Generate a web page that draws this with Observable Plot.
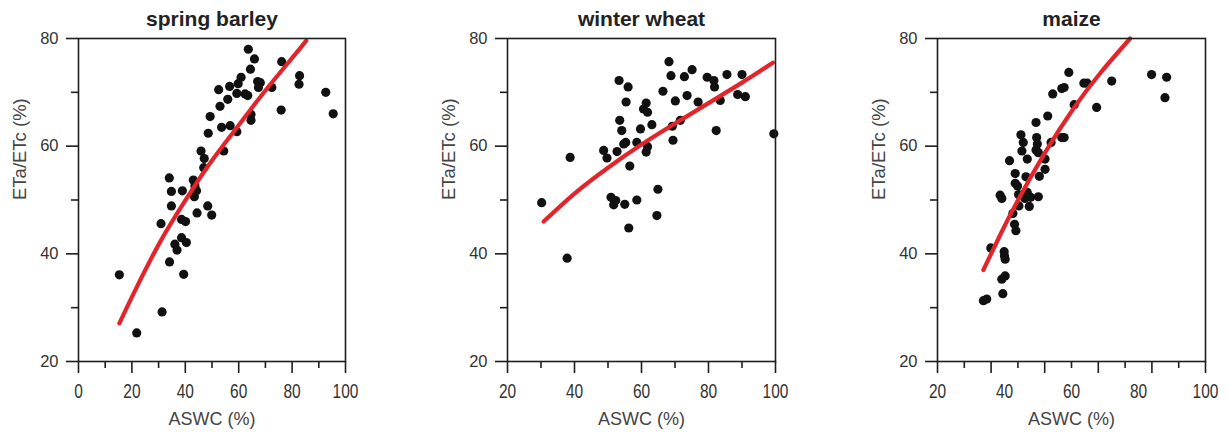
<!DOCTYPE html>
<html>
<head>
<meta charset="utf-8">
<script src="https://cdn.jsdelivr.net/npm/d3@7"></script>
<script src="https://cdn.jsdelivr.net/npm/@observablehq/plot@0.6"></script>
<style>
  body { margin: 0; background: #fff; }
  #wrap { position: relative; width: 1228px; height: 432px; overflow: hidden; }
  #wrap svg { position: absolute; top: 0; }
</style>
</head>
<body>
<div id="wrap"></div>
<script>
// ---------- data ----------
const panelTitles = ["spring barley", "winter wheat", "maize"];
const xAxisTitle = "ASWC (%)";
const yAxisTitle = "ETa/ETc (%)";

const yTickLabels = [20, 40, 60, 80];
const yMinorTicks = [30, 50, 70];

const barleyXTickLabels = [0, 20, 40, 60, 80, 100];
const barleyXMinorTicks = [10, 30, 50, 70, 90];
const wheatXTickLabels = [20, 40, 60, 80, 100];
const wheatXMinorTicks = [30, 50, 70, 90];
const maizeXTickLabels = [20, 40, 60, 80, 100];
const maizeXMajorTicks = [20, 36, 52, 68, 84, 100];
const maizeXMinorTicks = [28, 44, 60, 76, 92];

const barleyASWC = [15.3, 21.8, 31.3, 30.9, 34.0, 34.8, 34.8, 34.1, 36.1, 36.9, 38.6, 38.9, 38.6, 40.1, 40.4, 39.4,
  43.0, 43.6, 44.2, 43.4, 44.4, 48.4, 49.9, 45.9, 47.1, 46.9, 48.6, 49.3, 52.5, 53.0, 53.6, 54.4, 55.9, 56.6, 56.8,
  59.3, 59.3, 59.8, 60.9, 62.4, 63.4, 63.6, 65.9, 64.4, 64.6, 64.6, 67.1, 68.1, 67.4, 72.4, 76.1, 75.9, 82.8, 82.6,
  92.6, 95.4];
const barleyETa = [36.1, 25.3, 29.2, 45.6, 54.1, 51.6, 48.9, 38.5, 41.8, 40.7, 43.0, 51.7, 46.4, 46.0, 42.1, 36.2,
  53.7, 52.6, 51.7, 50.6, 47.6, 48.9, 47.2, 59.1, 57.7, 56.0, 62.4, 65.5, 70.5, 67.4, 63.5, 59.1, 68.7, 71.1, 63.8,
  62.7, 69.8, 71.6, 72.8, 69.7, 69.4, 78.0, 76.2, 74.3, 65.9, 64.8, 72.0, 71.8, 70.9, 70.9, 75.7, 66.7, 73.1, 71.5,
  70.0, 66.0];

const wheatASWC = [30.2, 37.8, 38.7, 48.7, 49.7, 50.9, 51.7, 52.3, 52.7, 53.3, 53.5, 54.1, 54.7, 55.0, 55.4, 56.0,
  55.3, 56.2, 56.5, 58.6, 58.6, 59.7, 60.6, 61.4, 61.8, 61.4, 61.8, 63.1, 64.9, 64.6, 66.4, 68.2, 68.8, 69.2, 69.4,
  70.1, 71.6, 72.8, 73.6, 75.1, 76.9, 79.6, 81.6, 81.8, 82.3, 83.5, 85.5, 88.7, 90.0, 91.0, 99.5];
const wheatETa = [49.5, 39.2, 57.9, 59.2, 57.8, 50.5, 49.1, 49.9, 59.0, 72.2, 64.8, 62.9, 60.4, 49.2, 68.2, 71.0,
  60.7, 44.8, 56.3, 50.0, 60.7, 63.2, 66.9, 68.0, 66.3, 58.9, 59.9, 64.0, 52.0, 47.1, 70.2, 75.7, 73.1, 63.7, 61.1,
  68.4, 64.8, 72.9, 69.4, 74.2, 68.2, 72.8, 72.2, 71.0, 62.9, 68.5, 73.3, 69.6, 73.3, 69.2, 62.3];

const maizeASWC = [33.7, 34.7, 35.9, 38.7, 39.2, 39.5, 39.2, 40.2, 39.9, 40.2, 40.0, 41.5, 42.5, 43.0, 43.4, 43.2,
  43.2, 43.9, 44.3, 44.2, 44.9, 45.6, 45.2, 46.4, 46.8, 46.8, 46.1, 47.4, 47.8, 49.4, 49.6, 49.8, 49.4, 50.1, 50.4,
  50.1, 52.1, 52.1, 52.9, 53.9, 54.4, 57.1, 57.8, 57.1, 57.8, 59.2, 60.8, 63.7, 64.7, 67.5, 72.0, 83.9, 88.4, 87.9];
const maizeETa = [31.3, 31.6, 41.1, 50.9, 50.3, 32.6, 35.3, 35.9, 40.4, 39.0, 39.6, 57.3, 47.5, 45.5, 44.3, 54.9,
  53.1, 52.6, 48.9, 51.0, 62.1, 60.7, 59.1, 54.3, 57.6, 51.4, 50.3, 48.8, 50.5, 64.4, 61.6, 60.4, 59.3, 58.8, 54.4,
  50.6, 57.6, 55.7, 65.6, 60.7, 69.7, 70.7, 70.9, 61.6, 61.6, 73.7, 67.7, 71.7, 71.7, 67.2, 72.1, 73.3, 72.8, 69.0];

// fitted curves, points
const barleyFitX = [15.3, 22, 30.9, 39.6, 47.1, 54.6, 63.4, 70.9, 80.9, 85.3];
const barleyFitY = [27.1, 34.0, 42.5, 49.6, 55.3, 60.4, 66.1, 70.9, 76.9, 79.6];
const wheatFitX = [30.8, 40, 50, 60, 70, 80, 90, 99.2];
const wheatFitY = [46.0, 51.2, 56.0, 60.3, 64.2, 68.0, 71.8, 75.5];
const maizeFitX = [33.7, 38.7, 43.7, 52.1, 60.6, 68.5, 77.5];
const maizeFitY = [37.0, 43.5, 49.6, 58.8, 67.0, 73.5, 80.0];

// ---------- drawing ----------
const INK = "#1e1e1e";
const REG = '"Liberation Sans",Arial,sans-serif';

function zip(xs, ys) { return xs.map((x, i) => ({x, y: ys[i]})); }

function panel({title, xs, ys, fx, fy, xDomain, xMajor, xMinor, xLabels, left, width, marginLeft, marginRight}) {
  const marks = [
    Plot.axisY(yTickLabels, {tickSize: 12, tickPadding: 8, stroke: INK, strokeWidth: 1.6, fill: "#333",
      fontSize: 16.5, fontFamily: REG, label: null}),
    Plot.axisY(yMinorTicks, {tickSize: 7, stroke: INK, strokeWidth: 1.6, fill: "none", label: null}),
    Plot.axisX(xMajor, {tickSize: 12, stroke: INK, strokeWidth: 1.6, fill: "none", label: null}),
    Plot.axisX(xMinor, {tickSize: 7, stroke: INK, strokeWidth: 1.6, fill: "none", label: null}),
    Plot.axisX(xLabels, {tickSize: 0, tickPadding: 22, fill: "#333", fontSize: 20, fontFamily: REG, label: null}),
    Plot.dot(zip(xs, ys), {x: "x", y: "y", r: 4.6, fill: "#111"}),
    Plot.line(zip(fx, fy), {x: "x", y: "y", stroke: "#e3242b", strokeWidth: 4.2, curve: "natural"}),
    Plot.frame({stroke: INK, strokeWidth: 1.6}),
    Plot.text([title], {text: d => d, frameAnchor: "top", dy: -27, lineAnchor: "top", fontSize: 21,
      fontWeight: "bold", fill: "#222", fontFamily: REG, ariaLabel: "panel-title"}),
    Plot.text([xAxisTitle], {text: d => d, frameAnchor: "bottom", dy: 51, lineAnchor: "top", fontSize: 18,
      fill: "#444", fontFamily: REG, ariaLabel: "x-title"}),
    Plot.text([yAxisTitle], {text: d => d, frameAnchor: "left", dx: -58, rotate: -90, fontSize: 18.5,
      fill: "#444", fontFamily: REG, ariaLabel: "y-title"})
  ];
  const svg = Plot.plot({
    width, height: 432,
    marginLeft, marginRight, marginTop: 38, marginBottom: 71,
    x: {domain: xDomain},
    y: {domain: [20, 80]},
    style: {background: "transparent", overflow: "visible"},
    marks
  });
  // the original uses a condensed face for the x-axis texts
  const s = d3.select(svg);
  s.selectAll('g[aria-label="x-axis tick label"] text').each(function () {
    this.setAttribute("textLength", this.textContent.length * 8.6);
    this.setAttribute("lengthAdjust", "spacingAndGlyphs");
  });
  s.selectAll('g[aria-label="x-title"] text').attr("textLength", 72).attr("lengthAdjust", "spacingAndGlyphs");
  s.selectAll('g[aria-label="y-title"] text').attr("textLength", 108).attr("lengthAdjust", "spacingAndGlyphs");
  svg.style.left = left + "px";
  return svg;
}

const wrap = document.getElementById("wrap");
wrap.append(
  panel({title: panelTitles[0], xs: barleyASWC, ys: barleyETa, fx: barleyFitX, fy: barleyFitY,
    xDomain: [0, 100], xMajor: barleyXTickLabels, xMinor: barleyXMinorTicks, xLabels: barleyXTickLabels,
    left: 0, width: 400, marginLeft: 78, marginRight: 55}),
  panel({title: panelTitles[1], xs: wheatASWC, ys: wheatETa, fx: wheatFitX, fy: wheatFitY,
    xDomain: [20, 100], xMajor: wheatXTickLabels, xMinor: wheatXMinorTicks, xLabels: wheatXTickLabels,
    left: 410, width: 400, marginLeft: 97, marginRight: 35}),
  panel({title: panelTitles[2], xs: maizeASWC, ys: maizeETa, fx: maizeFitX, fy: maizeFitY,
    xDomain: [20, 100], xMajor: maizeXMajorTicks, xMinor: maizeXMinorTicks, xLabels: maizeXTickLabels,
    left: 840, width: 388, marginLeft: 97, marginRight: 23})
);
</script>
</body>
</html>
